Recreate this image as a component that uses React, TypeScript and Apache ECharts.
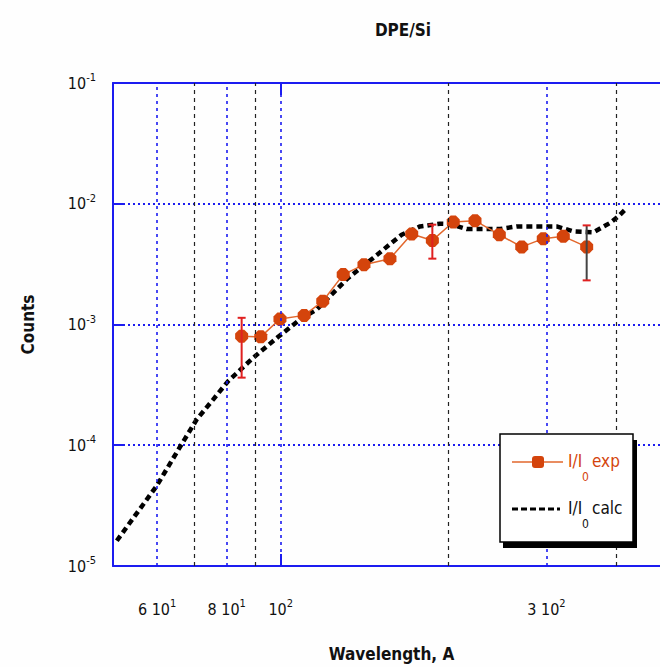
import React, { useEffect, useRef } from "react";
import * as echarts from "echarts";

// Experimental points I/I0 exp
const expWavelength = [85.1, 92.1, 99.7, 110.2, 119, 129.5, 141.1, 157.1, 171.9, 187.2, 204.1, 223.3, 246.9, 270.9, 296.1, 321.7, 354.3];
const expCounts = [8.0e-4, 7.9e-4, 1.11e-3, 1.19e-3, 1.56e-3, 2.59e-3, 3.13e-3, 3.51e-3, 5.62e-3, 4.97e-3, 7.06e-3, 7.24e-3, 5.54e-3, 4.39e-3, 5.14e-3, 5.37e-3, 4.39e-3];

// Error bars
const errWavelength = [85.1, 187.2, 354.3];
const errLow = [3.63e-4, 3.51e-3, 2.32e-3];
const errHigh = [1.136e-3, 6.71e-3, 6.62e-3];
const errStemColor = ["#e02020", "#e02020", "#444444"];

// Calculated curve I/I0 calc
const calcWavelength = [50.8, 59.9, 66.4, 70.7, 75.7, 80.5, 89.3, 99.0, 108.3, 116.0, 124.3, 132.2, 146.6, 164.9, 177.9, 193.2, 201.4, 215.8, 231.1, 247.6, 265.3, 292.1, 313.0, 335.2, 364.1, 390.2, 403.8, 415.1];
const calcCounts = [1.62e-5, 4.61e-5, 1.02e-4, 1.64e-4, 2.4e-4, 3.4e-4, 5.31e-4, 7.91e-4, 1.1e-3, 1.33e-3, 1.83e-3, 2.43e-3, 3.56e-3, 5.54e-3, 6.49e-3, 6.83e-3, 6.8e-3, 6.18e-3, 6.18e-3, 6.18e-3, 6.49e-3, 6.49e-3, 6.49e-3, 5.9e-3, 5.8e-3, 6.93e-3, 7.85e-3, 8.92e-3];

// Axis ticks
const xLabelValues = [60, 80, 100, 300];
const xLabelMantissa: Record<number, string> = { 60: "6 ", 80: "8 ", 100: "", 300: "3 " };
const blueGridX = [60, 80, 100, 300];
const blackGridX = [70, 90, 200, 400];

const FONT = '"Liberation Sans Narrow", "Arial Narrow", "DejaVu Sans Condensed", sans-serif';
const BLUE = "#1c1cf0";
const EXP_COLOR = "#d4440c";
const EXP_LINE = "#e2672c";

const octagon = "path://M3,0 L7,0 L10,3 L10,7 L7,10 L3,10 L0,7 L0,3 Z";

export default function App() {
  const ref = useRef<HTMLDivElement>(null);
  useEffect(() => {
    if (!ref.current) return;
    const chart = echarts.init(ref.current, null, { renderer: "svg" });
    const expData = expWavelength.map((x, i) => [x, expCounts[i]]);
    const calcData = calcWavelength.map((x, i) => [x, calcCounts[i]]);
    const errData = errWavelength.map((x, i) => [x, errLow[i], errHigh[i], i]);

    const gridLines = [
      ...blueGridX.map((v) => ({ xAxis: v, lineStyle: { color: BLUE, type: [3, 4], width: 1.6 } })),
      ...blackGridX.map((v) => ({ xAxis: v, lineStyle: { color: "#222", type: [4, 4], width: 1.2 } })),
    ];

    const supRich = {
      b: { fontSize: 16, fontFamily: FONT, color: "#111", lineHeight: 22 },
      s: { fontSize: 11, fontFamily: FONT, color: "#111", verticalAlign: "top", lineHeight: 13 },
    };

    chart.setOption({
      animation: false,
      backgroundColor: "#fefefe",
      grid: { left: 113, top: 83, width: 557, height: 484, show: false },
      xAxis: [
        {
          type: "log",
          logBase: 10,
          min: 50,
          max: 500,
          position: "bottom",
          name: "Wavelength, A",
          nameLocation: "middle",
          nameGap: 79,
          nameTextStyle: { fontFamily: FONT, fontWeight: "bold", fontSize: 17, color: "#111" },
          axisLine: { show: true, lineStyle: { color: BLUE, width: 2 } },
          axisTick: { show: true, inside: true, length: 12, customValues: [100], lineStyle: { color: BLUE, width: 2 } },
          minorTick: { show: false },
          splitLine: { show: false },
          axisLabel: {
            show: true,
            margin: 32,
            customValues: xLabelValues,
            formatter: (v: number) => {
              const e = Math.floor(Math.log10(v) + 1e-9);
              const m = xLabelMantissa[Math.round(v)] ?? "";
              return `{b|${m}10}{s|${e}}`;
            },
            rich: supRich,
          },
        },
        {
          type: "log",
          logBase: 10,
          min: 50,
          max: 500,
          position: "top",
          axisLine: { show: true, lineStyle: { color: BLUE, width: 2 } },
          axisTick: { show: true, inside: true, length: 12, customValues: [100], lineStyle: { color: BLUE, width: 2 } },
          axisLabel: { show: false },
          splitLine: { show: false },
        },
      ],
      yAxis: {
        type: "log",
        logBase: 10,
        min: 1e-5,
        max: 1e-1,
        name: "Counts",
        nameLocation: "middle",
        nameGap: 77,
        nameTextStyle: { fontFamily: FONT, fontWeight: "bold", fontSize: 17, color: "#111" },
        axisLine: { show: true, lineStyle: { color: BLUE, width: 2 } },
        axisTick: { show: true, inside: true, length: 12, lineStyle: { color: BLUE, width: 2 } },
        minorTick: { show: false },
        splitLine: { show: true, lineStyle: { color: BLUE, type: [2, 3], width: 2 } },
        axisLabel: {
          margin: 17,
          formatter: (v: number) => {
            const e = Math.round(Math.log10(v));
            return `{b|10}{s|${e}}`;
          },
          rich: supRich,
        },
      },
      series: [
        {
          type: "line",
          data: [],
          z: 1,
          silent: true,
          markLine: {
            silent: true,
            symbol: ["none", "none"],
            label: { show: false },
            data: gridLines,
          },
        },
        {
          name: "I/I0 calc",
          type: "line",
          data: calcData,
          showSymbol: false,
          symbol: "none",
          smooth: false,
          z: 3,
          lineStyle: { color: "#000", width: 4.5, type: [6, 4] },
        },
        {
          name: "I/I0 exp",
          type: "line",
          data: expData,
          symbol: octagon,
          symbolSize: 13,
          z: 4,
          itemStyle: { color: EXP_COLOR },
          lineStyle: { color: EXP_LINE, width: 1.5 },
        },
        {
          type: "custom",
          z: 5,
          data: errData,
          encode: { x: 0, y: [1, 2] },
          renderItem: (params: any, api: any) => {
            const x = api.value(0);
            const lo = api.coord([x, api.value(1)]);
            const hi = api.coord([x, api.value(2)]);
            const idx = api.value(3);
            const w = 4;
            return {
              type: "group",
              children: [
                { type: "line", shape: { x1: lo[0], y1: lo[1], x2: hi[0], y2: hi[1] }, style: { stroke: errStemColor[idx], lineWidth: 2 } },
                { type: "line", shape: { x1: lo[0] - w, y1: lo[1], x2: lo[0] + w, y2: lo[1] }, style: { stroke: "#e02020", lineWidth: 2 } },
                { type: "line", shape: { x1: hi[0] - w, y1: hi[1], x2: hi[0] + w, y2: hi[1] }, style: { stroke: "#e02020", lineWidth: 2 } },
              ],
            };
          },
        },
      ],
      graphic: [
        {
          type: "text",
          x: 403,
          y: 30,
          style: { text: "DPE/Si", fill: "#111", font: `bold 17px ${FONT}`, textAlign: "center", textVerticalAlign: "middle", align: "center", verticalAlign: "middle" },
        },
        { type: "rect", shape: { x: 503, y: 440, width: 134, height: 108 }, style: { fill: "#000" }, z: 10 },
        { type: "rect", shape: { x: 500, y: 434, width: 133, height: 108 }, style: { fill: "#fff", stroke: "#000", lineWidth: 1.5 }, z: 11 },
        { type: "line", shape: { x1: 512, y1: 462, x2: 563, y2: 462 }, style: { stroke: EXP_LINE, lineWidth: 1.5 }, z: 12 },
        { type: "rect", shape: { x: 532, y: 456, width: 12, height: 12, r: 3 }, style: { fill: EXP_COLOR }, z: 12 },
        { type: "text", x: 568, y: 461, style: { text: "I/I", fill: EXP_COLOR, font: `17px ${FONT}`, textVerticalAlign: "middle", verticalAlign: "middle" }, z: 12 },
        { type: "text", x: 582, y: 477, style: { text: "0", fill: EXP_COLOR, font: `12px ${FONT}`, textVerticalAlign: "middle", verticalAlign: "middle" }, z: 12 },
        { type: "text", x: 592, y: 461, style: { text: "exp", fill: EXP_COLOR, font: `17px ${FONT}`, textVerticalAlign: "middle", verticalAlign: "middle" }, z: 12 },
        { type: "line", shape: { x1: 512, y1: 509, x2: 560, y2: 509 }, style: { stroke: "#000", lineWidth: 3, lineDash: [6, 3] }, z: 12 },
        { type: "text", x: 568, y: 508, style: { text: "I/I", fill: "#111", font: `17px ${FONT}`, textVerticalAlign: "middle", verticalAlign: "middle" }, z: 12 },
        { type: "text", x: 582, y: 524, style: { text: "0", fill: "#111", font: `12px ${FONT}`, textVerticalAlign: "middle", verticalAlign: "middle" }, z: 12 },
        { type: "text", x: 592, y: 508, style: { text: "calc", fill: "#111", font: `17px ${FONT}`, textVerticalAlign: "middle", verticalAlign: "middle" }, z: 12 },
      ],
    });
    return () => chart.dispose();
  }, []);
  return <div ref={ref} style={{ position: "fixed", left: 0, top: 0, width: 690, height: 667 }} />;
}
